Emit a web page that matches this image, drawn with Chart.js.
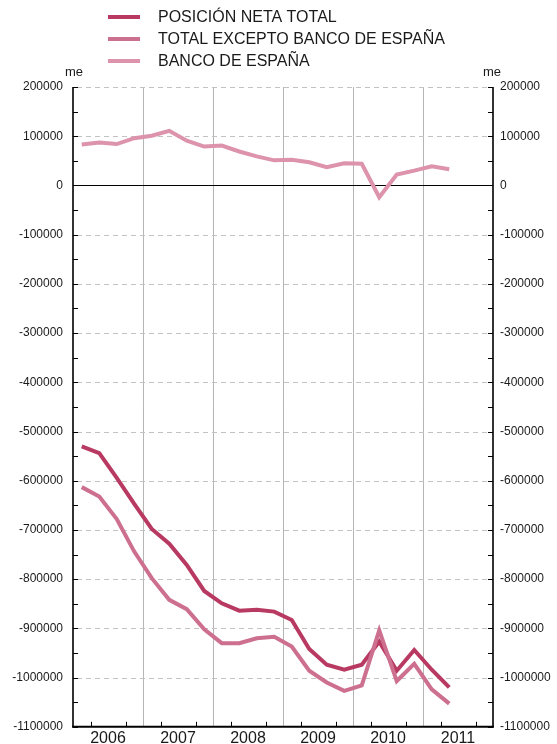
<!DOCTYPE html>
<html>
<head>
<meta charset="utf-8">
<script src="https://cdn.jsdelivr.net/npm/chart.js@4/dist/chart.umd.min.js"></script>
<style>
  html, body { margin: 0; padding: 0; background: #ffffff; }
  #wrap { position: relative; width: 557px; height: 744px; }
</style>
</head>
<body>
<div id="wrap"><canvas id="c" width="557" height="744"></canvas></div>
<script>
// Quarterly observations, 2006 T1 – 2011 T2 (millones de euros)
const quarters = [
  '2006 T1','2006 T2','2006 T3','2006 T4',
  '2007 T1','2007 T2','2007 T3','2007 T4',
  '2008 T1','2008 T2','2008 T3','2008 T4',
  '2009 T1','2009 T2','2009 T3','2009 T4',
  '2010 T1','2010 T2','2010 T3','2010 T4',
  '2011 T1','2011 T2'
];
const years = ['2006','2007','2008','2009','2010','2011'];

const posicionNetaTotal = [
  -530000, -544000, -594000, -647000, -698000, -728000, -771000, -824000,
  -849000, -864000, -862000, -866000, -883000, -942000, -974000, -984000,
  -974000, -927000, -986000, -944000, -984000, -1020000
];
const totalExceptoBde = [
  -613000, -632000, -678000, -744000, -798000, -842000, -861000, -902000,
  -930000, -930000, -920000, -917000, -937000, -986000, -1010000, -1027000,
  -1016000, -904000, -1007000, -972000, -1024000, -1053000
];
const bancoDeEspana = [
  83000, 87000, 84000, 96000, 101000, 111000, 91000, 79000,
  81000, 69000, 59000, 51000, 52000, 47000, 37000, 45000,
  44000, -24000, 22000, 30000, 39000, 33000
];

const seriesNames = ['POSICIÓN NETA TOTAL', 'TOTAL EXCEPTO BANCO DE ESPAÑA', 'BANCO DE ESPAÑA'];
const seriesColors = ['#b83a62', '#cd6f8e', '#dc93ab'];

const Y_MIN = -1100000, Y_MAX = 200000, Y_STEP = 100000;
const FONT = '"Liberation Sans", Arial, Helvetica, sans-serif';

// points sit in the middle of each quarter on a 0..24 quarter axis
const toPoints = vals => vals.map((v, i) => ({ x: i + 0.5, y: v }));

// grid lines, axis frame and inward tick marks
const framePlugin = {
  id: 'frame',
  beforeDatasetsDraw(chart) {
    const { ctx, chartArea: a, scales } = chart;
    const x = scales.x, y = scales.y;
    ctx.save();

    // vertical year separators
    ctx.strokeStyle = '#b5b5b5';
    ctx.lineWidth = 1;
    for (let q = 4; q < 24; q += 4) {
      const px = Math.round(x.getPixelForValue(q)) + 0.5;
      ctx.beginPath(); ctx.moveTo(px, a.top); ctx.lineTo(px, a.bottom); ctx.stroke();
    }

    // dashed horizontal grid
    ctx.strokeStyle = '#c2c2c2';
    ctx.setLineDash([5, 4]);
    for (let v = Y_MAX; v > Y_MIN; v -= Y_STEP) {
      if (v === 0) continue;
      const py = Math.round(y.getPixelForValue(v)) + 0.5;
      ctx.beginPath(); ctx.moveTo(a.left + 4, py); ctx.lineTo(a.right - 4, py); ctx.stroke();
    }
    ctx.setLineDash([]);

    // zero line
    ctx.strokeStyle = '#000';
    ctx.lineWidth = 1;
    const z = Math.round(y.getPixelForValue(0)) + 0.5;
    ctx.beginPath(); ctx.moveTo(a.left, z); ctx.lineTo(a.right, z); ctx.stroke();

    // inward ticks on both value axes every 50000
    ctx.lineWidth = 1;
    for (let v = Y_MAX; v >= Y_MIN; v -= Y_STEP / 2) {
      const py = Math.round(y.getPixelForValue(v)) + 0.5;
      ctx.beginPath();
      ctx.moveTo(a.left, py); ctx.lineTo(a.left + 5, py);
      ctx.moveTo(a.right, py); ctx.lineTo(a.right - 5, py);
      ctx.stroke();
    }

    // ticks on the time axis
    for (let q = 1; q < 24; q += 2) {
      const px = Math.round(x.getPixelForValue(q)) + 0.5;
      ctx.beginPath(); ctx.moveTo(px, a.bottom); ctx.lineTo(px, a.bottom - 5); ctx.stroke();
    }

    // frame: left, right and bottom axis lines
    ctx.lineWidth = 1.6;
    ctx.beginPath();
    ctx.moveTo(a.left, a.top); ctx.lineTo(a.left, a.bottom);
    ctx.moveTo(a.right, a.top); ctx.lineTo(a.right, a.bottom);
    ctx.stroke();
    ctx.lineWidth = 2;
    ctx.beginPath(); ctx.moveTo(a.left - 1, a.bottom); ctx.lineTo(a.right + 1, a.bottom); ctx.stroke();

    ctx.restore();
  },
  afterDraw(chart) {
    const { ctx, chartArea: a } = chart;
    ctx.save();
    // unit labels
    ctx.fillStyle = '#1a1a1a';
    ctx.font = '13px ' + FONT;
    ctx.textAlign = 'center';
    ctx.textBaseline = 'middle';
    ctx.fillText('me', a.left + 1, 72);
    ctx.fillText('me', a.right - 1, 72);

    // legend
    ctx.textAlign = 'left';
    ctx.font = '16px ' + FONT;
    chart.data.datasets.forEach((ds, i) => {
      const ly = 17 + 22 * i;
      ctx.strokeStyle = ds.borderColor;
      ctx.lineWidth = 4;
      ctx.beginPath(); ctx.moveTo(108, ly); ctx.lineTo(140, ly); ctx.stroke();
      ctx.fillStyle = '#1a1a1a';
      ctx.fillText(ds.label, 158, ly + 1);
    });
    ctx.restore();
  }
};

const valueAxis = (position, pad, width) => ({
  type: 'linear',
  position,
  min: Y_MIN,
  max: Y_MAX,
  grid: { display: false, drawTicks: false },
  border: { display: false },
  ticks: {
    stepSize: Y_STEP,
    padding: pad,
    color: '#1a1a1a',
    font: { size: 12, family: FONT },
    callback: v => String(v)
  },
  afterFit(scale) { scale.width = width; }
});

new Chart(document.getElementById('c'), {
  type: 'line',
  data: {
    datasets: [
      { label: seriesNames[0], data: toPoints(posicionNetaTotal), borderColor: seriesColors[0], order: 2 },
      { label: seriesNames[1], data: toPoints(totalExceptoBde), borderColor: seriesColors[1], order: 1 },
      { label: seriesNames[2], data: toPoints(bancoDeEspana), borderColor: seriesColors[2], order: 3 }
    ]
  },
  options: {
    responsive: false,
    animation: false,
    events: [],
    layout: { padding: { top: 87, left: 0, right: 0, bottom: 0 } },
    elements: {
      line: { borderWidth: 4, tension: 0, borderCapStyle: 'butt', borderJoinStyle: 'miter', fill: false },
      point: { radius: 0 }
    },
    plugins: { legend: { display: false }, tooltip: { enabled: false } },
    scales: {
      x: {
        type: 'linear',
        min: 0,
        max: 24,
        grid: { display: false, drawTicks: false },
        border: { display: false },
        afterBuildTicks(scale) {
          scale.ticks = years.map((_, i) => ({ value: 4 * i + 2 }));
        },
        ticks: {
          autoSkip: false,
          maxRotation: 0,
          padding: 2,
          color: '#1a1a1a',
          font: { size: 16, family: FONT },
          callback: (v, i) => years[i]
        },
        afterFit(scale) { scale.height = 17; }
      },
      y: valueAxis('left', 10, 73),
      y2: valueAxis('right', 7, 64)
    }
  },
  plugins: [framePlugin]
});
</script>
</body>
</html>
